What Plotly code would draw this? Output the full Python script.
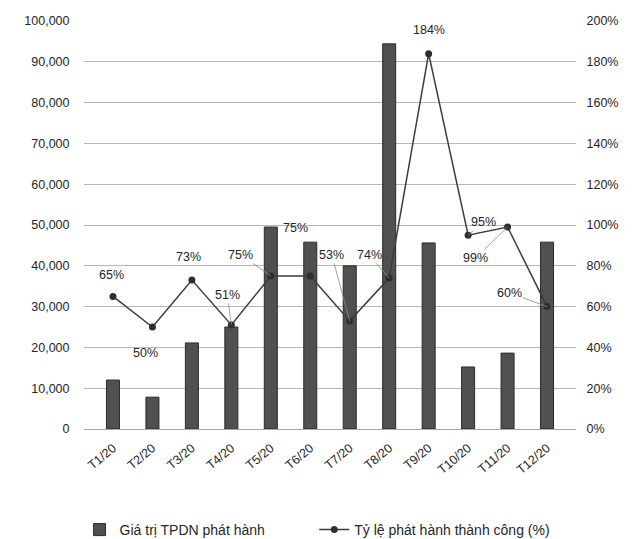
import plotly.graph_objects as go

months = ["T1/20", "T2/20", "T3/20", "T4/20", "T5/20", "T6/20",
          "T7/20", "T8/20", "T9/20", "T10/20", "T11/20", "T12/20"]
issued_value = [12000, 7800, 21100, 25000, 49500, 45800,
                40000, 94400, 45600, 15200, 18600, 45800]
success_rate = [65, 50, 73, 51, 75, 75, 53, 74, 184, 95, 99, 60]
left_ticks = [0, 10000, 20000, 30000, 40000, 50000, 60000, 70000, 80000, 90000, 100000]
right_ticks = [0, 20, 40, 60, 80, 100, 120, 140, 160, 180, 200]

FONT = "Liberation Sans, Arial, sans-serif"
TXT = "#262626"

# the page body has an 8px margin, so the figure is 8px smaller than the window
W, H = 624, 531

fig = go.Figure()
fig.add_trace(go.Bar(
    x=months, y=issued_value, name="Giá trị TPDN phát hành",
    marker=dict(color="#505050", line=dict(color="#2b2b2b", width=1)),
    yaxis="y", legend="legend"))
fig.add_trace(go.Scatter(
    x=months, y=success_rate, name="Tỷ lệ phát hành thành công (%)",
    mode="lines+markers", yaxis="y2", legend="legend2",
    line=dict(color="#3c3c3c", width=1.5),
    marker=dict(color="#2e2e2e", size=7, symbol="circle")))

# label offsets (pixels) and whether a leader line is shown
label_style = [(-1, -21, False), (-7, 26, False), (-3, -23, False), (-4, -30, True),
               (-30, -21, True), (-15, -48, False), (-18, -66, True), (-20, -23, True),
               (0, -24, False), (15, -13, True), (-32, 31, True), (-38, -14, True)]
for m, v, (ax, ay, lead) in zip(months, success_rate, label_style):
    fig.add_annotation(
        x=m, y=v, xref="x", yref="y2", text=f"{v}%",
        showarrow=True, ax=ax, ay=ay, arrowhead=0, arrowwidth=0.8,
        arrowcolor="#8a8a8a" if lead else "rgba(0,0,0,0)",
        font=dict(family=FONT, size=12.5, color=TXT))

legend_common = dict(orientation="h", yref="container", y=1 - 522 / H,
                     xanchor="left", yanchor="middle",
                     font=dict(family=FONT, size=14, color=TXT))

fig.update_layout(
    width=W, height=H,
    margin=dict(l=76, r=56, t=13, b=110, autoexpand=False),
    paper_bgcolor="white", plot_bgcolor="white",
    font=dict(family=FONT, size=12.5, color=TXT),
    bargap=0.67,
    showlegend=True,
    legend=dict(x=-0.009, **legend_common),
    legend2=dict(x=0.468, **legend_common),
    xaxis=dict(tickangle=-40, showgrid=False, showline=True, linecolor="#a8a8a8",
               ticks="outside", ticklen=6, tickcolor="rgba(0,0,0,0)",
               tickfont=dict(size=12.5), automargin=False),
    yaxis=dict(range=[0, 100000], tickvals=left_ticks, tickformat=",",
               showgrid=True, gridcolor="#b8b8b8", gridwidth=1, zeroline=False,
               ticks="outside", ticklen=11, tickcolor="rgba(0,0,0,0)",
               tickfont=dict(size=12.5), automargin=False),
    yaxis2=dict(range=[0, 200], tickvals=right_ticks,
                ticktext=[f"{t}%" for t in right_ticks],
                overlaying="y", side="right", showgrid=False, zeroline=False,
                ticks="outside", ticklen=7, tickcolor="rgba(0,0,0,0)",
                tickfont=dict(size=12.5), automargin=False),
)

fig.write_html("out.html")
